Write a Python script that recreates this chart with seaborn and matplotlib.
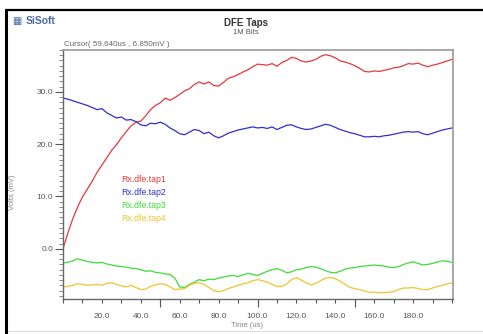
import numpy as np
import pandas as pd
import seaborn as sns
import matplotlib.pyplot as plt
from matplotlib.ticker import MultipleLocator, FixedLocator, FuncFormatter

# time axis (us), one sample every 2.5 us
time_us = np.arange(0, 200.1, 2.5)

tap1 = [0.0, 3.0, 5.7, 8.0, 9.9, 11.4, 12.9, 14.6, 16.0, 17.4, 18.8, 19.9, 21.2, 22.4, 23.5, 24.2,
        24.4, 25.4, 26.6, 27.4, 27.9, 28.8, 28.4, 28.9, 29.5, 30.2, 30.6, 31.4, 31.9, 31.5, 31.9, 31.2,
        31.1, 31.8, 32.6, 32.9, 33.3, 33.8, 34.2, 34.8, 35.3, 35.2, 35.1, 35.4, 34.9, 35.6, 36.0, 36.6,
        36.4, 35.9, 35.7, 35.9, 36.2, 36.8, 37.1, 36.9, 36.5, 35.9, 35.7, 35.4, 35.0, 34.5, 33.9, 33.8,
        34.0, 33.9, 34.1, 34.3, 34.6, 34.7, 35.0, 35.4, 35.3, 35.5, 35.1, 34.8, 35.1, 35.3, 35.6, 35.9, 36.2]
tap2 = [28.8, 28.6, 28.3, 28.0, 27.7, 27.4, 27.0, 26.6, 26.8, 26.0, 25.5, 25.0, 25.2, 24.6, 24.7, 24.3,
        23.7, 23.5, 24.0, 23.9, 24.2, 23.8, 23.1, 22.6, 22.0, 21.8, 22.3, 22.8, 22.6, 22.0, 22.3, 21.6,
        21.2, 21.6, 22.1, 22.4, 22.7, 22.9, 23.1, 23.3, 23.1, 23.2, 23.0, 23.3, 22.8, 23.2, 23.6, 23.7,
        23.3, 23.0, 22.8, 22.9, 23.2, 23.5, 23.8, 23.6, 23.2, 22.8, 22.5, 22.2, 22.0, 21.7, 21.4, 21.4,
        21.5, 21.4, 21.6, 21.7, 21.9, 22.1, 22.3, 22.4, 22.3, 22.4, 22.0, 21.8, 22.1, 22.4, 22.7, 22.9, 23.1]
tap3 = [-2.7, -2.6, -2.3, -1.9, -2.2, -2.4, -2.6, -2.7, -2.6, -2.9, -3.1, -3.3, -3.4, -3.5, -3.7, -3.8,
        -4.0, -4.3, -4.2, -4.5, -4.6, -4.8, -4.9, -5.6, -7.3, -7.4, -6.8, -6.4, -5.9, -6.1, -5.8, -5.9,
        -5.6, -5.4, -5.2, -5.1, -5.3, -5.0, -4.7, -4.9, -5.1, -4.7, -4.3, -4.0, -3.8, -4.1, -4.6, -4.4,
        -4.0, -3.9, -3.6, -3.4, -3.5, -3.8, -4.2, -4.5, -4.6, -4.3, -3.9, -3.7, -3.6, -3.4, -3.3, -3.2,
        -3.1, -3.2, -3.3, -3.5, -3.6, -3.4, -3.0, -2.7, -2.5, -2.8, -3.1, -3.0, -2.8, -2.5, -2.3, -2.4, -2.6]
tap4 = [-7.3, -7.2, -7.0, -6.7, -6.8, -7.0, -6.9, -6.8, -7.0, -6.6, -6.5, -6.8, -7.1, -7.3, -7.0, -7.4,
        -7.8, -7.7, -7.2, -6.9, -6.7, -6.8, -7.3, -7.8, -7.7, -7.6, -7.0, -6.6, -6.5, -6.8, -7.4, -8.0,
        -8.2, -8.0, -7.6, -7.3, -7.0, -6.7, -6.5, -6.1, -5.9, -6.1, -6.4, -6.8, -7.2, -7.2, -6.7, -5.9,
        -5.5, -6.0, -6.5, -6.9, -6.6, -6.1, -5.6, -5.5, -5.7, -6.2, -6.8, -7.4, -7.6, -7.8, -8.1, -8.3,
        -8.3, -8.4, -8.4, -8.3, -8.2, -7.8, -7.5, -7.5, -7.4, -7.6, -7.8, -7.8, -7.5, -7.2, -7.0, -6.7, -6.5]

tap_names = ['Rx.dfe.tap1', 'Rx.dfe.tap2', 'Rx.dfe.tap3', 'Rx.dfe.tap4']
tap_colors = ['#e8383a', '#2f2fd2', '#3ddc3a', '#f2c42a']

df = pd.DataFrame({'Time': time_us, tap_names[0]: tap1, tap_names[1]: tap2,
                   tap_names[2]: tap3, tap_names[3]: tap4})
long_df = df.melt(id_vars='Time', var_name='Signal', value_name='Volts')

sns.set_style('white')
plt.rcParams['font.family'] = ['Liberation Sans', 'DejaVu Sans']

fig = plt.figure(figsize=(4.83, 3.34), dpi=100)
ax = fig.add_axes([63 / 483, 35 / 334, 390 / 483, 249 / 334])

sns.lineplot(data=long_df, x='Time', y='Volts', hue='Signal', palette=tap_colors,
             hue_order=tap_names, linewidth=0.9, ax=ax)

ax.set_xlim(0, 200.5)
ax.set_ylim(-9.6, 38)
ax.set_xlabel('')
ax.set_ylabel('')

# x ticks: short every 10, long at 50/100/150, labels every 20
ax.xaxis.set_major_locator(MultipleLocator(10))
ax.xaxis.set_major_formatter(FuncFormatter(
    lambda v, p: f'{v:.1f}' if (round(v) % 20 == 0 and 0 < v < 199) else ''))
ax.xaxis.set_minor_locator(FixedLocator([50, 100, 150]))
ax.xaxis.remove_overlapping_locs = False
ax.tick_params(axis='x', which='major', length=3, width=0.8, color='#555555',
               labelsize=6, labelcolor='#555555', pad=7)
ax.tick_params(axis='x', which='minor', length=6, width=0.8, color='#555555')

ax.yaxis.set_major_locator(MultipleLocator(10))
ax.yaxis.set_major_formatter(FuncFormatter(lambda v, p: f'{v:.1f}'))
ax.yaxis.set_minor_locator(MultipleLocator(1))
ax.tick_params(axis='y', which='major', length=6, width=0.8, color='#555555',
               labelsize=6, labelcolor='#555555', pad=1)
ax.tick_params(axis='y', which='minor', length=3, width=0.6, color='#777777')
ax.tick_params(left=True, bottom=True, which='both')

for side in ['left', 'bottom']:
    ax.spines[side].set_color('#666666')
    ax.spines[side].set_linewidth(1.0)
for side in ['top', 'right']:
    ax.spines[side].set_color('#999999')
    ax.spines[side].set_linewidth(1.2)

leg = ax.legend(loc='upper left', bbox_to_anchor=(0.13, 0.53), frameon=False,
                handlelength=0, handletextpad=0, fontsize=6.3, labelspacing=0.45,
                labelcolor='linecolor')
for h in leg.legend_handles:
    h.set_visible(False)

# texts around the plot
fig.text(246 / 483, 1 - 23 / 334, 'DFE Taps', ha='center', va='center',
         fontsize=7, fontweight='bold', color='#333333')
fig.text(246 / 483, 1 - 33 / 334, '1M Bits', ha='center', va='center',
         fontsize=5.5, color='#555555')
fig.text(64 / 483, 1 - 45 / 334, 'Cursor( 59.640us , 6.850mV )', ha='left', va='center',
         fontsize=5.8, color='#666666')
fig.text(12 / 483, 1 - 21 / 334, '▦', ha='left', va='center', fontsize=7,
         color='#4a68a8', family='DejaVu Sans')
fig.text(26 / 483, 1 - 21 / 334, 'SiSoft', ha='left', va='center', fontsize=7.5,
         fontweight='bold', color='#4a68a8')
fig.text(12 / 483, 1 - 192 / 334, 'Volts (mV)', ha='center', va='center', rotation=90,
         fontsize=5.5, color='#888888')
fig.text(247 / 483, 1 - 329 / 334, 'Time (us)', ha='center', va='bottom',
         fontsize=5.5, color='#888888')

# outer black frame (left and top edges visible)
fig.add_artist(plt.Line2D([6 / 483, 6 / 483], [0, 1 - 10 / 334], transform=fig.transFigure,
                          color='black', linewidth=2.2))
fig.add_artist(plt.Line2D([6 / 483, 1], [1 - 10 / 334, 1 - 10 / 334], transform=fig.transFigure,
                          color='black', linewidth=1.6))
fig.add_artist(plt.Line2D([8 / 483, 1], [1 - 331 / 334, 1 - 331 / 334], transform=fig.transFigure,
                          color='#dddddd', linewidth=0.8))

fig.savefig('out.png', dpi=100)
